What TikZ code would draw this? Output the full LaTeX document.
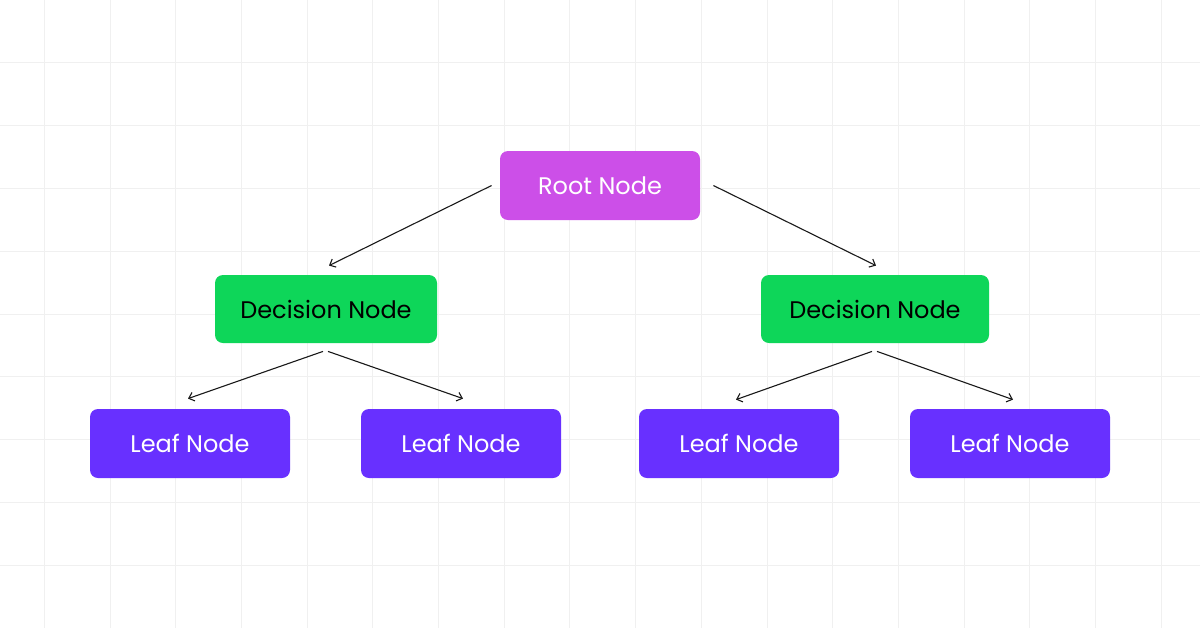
\documentclass[tikz,border=0pt]{standalone}
\usepackage{fontspec}
\setmainfont{Poppins}
\usetikzlibrary{positioning,arrows.meta}
\definecolor{RootPink}{RGB}{204,79,232}
\definecolor{DecisionGreen}{RGB}{14,214,89}
\definecolor{LeafViolet}{RGB}{104,48,255}
\definecolor{GridGrey}{RGB}{240,240,240}
\definecolor{EdgeInk}{RGB}{25,25,25}

\begin{document}
\begin{tikzpicture}[x=0.5pt, y=-0.5pt, every node/.style={font=\fontsize{12}{14}\selectfont, align=center}]
  \useasboundingbox (0,0) rectangle (1200,628);
  \fill[white] (0,0) rectangle (1200,628);
  \foreach \gx in {0,...,17}
    \draw[GridGrey, line width=0.5pt] (44.3+65.7*\gx,0) -- (44.3+65.7*\gx,628);
  \foreach \gy in {1,...,9}
    \draw[GridGrey, line width=0.5pt] (0,62.8*\gy) -- (1200,62.8*\gy);
  \node[rounded corners=4pt, fill=RootPink, text=white, inner sep=0pt,
        minimum width=100pt, minimum height=34.5pt] (root) at (600,185.5) {Root Node};
  \node[rounded corners=4pt, fill=DecisionGreen, text=black, inner sep=0pt,
        minimum width=111pt, minimum height=34pt] (decleft) at (326,309) {Decision Node};
  \node[rounded corners=4pt, fill=DecisionGreen, text=black, inner sep=0pt,
        minimum width=114pt, minimum height=34pt] (decright) at (875,309) {Decision Node};
  \node[rounded corners=4pt, fill=LeafViolet, text=white, inner sep=0pt,
        minimum width=100pt, minimum height=34.5pt] (leafa) at (190,443.5) {Leaf Node};
  \node[rounded corners=4pt, fill=LeafViolet, text=white, inner sep=0pt,
        minimum width=100pt, minimum height=34.5pt] (leafb) at (461,443.5) {Leaf Node};
  \node[rounded corners=4pt, fill=LeafViolet, text=white, inner sep=0pt,
        minimum width=100pt, minimum height=34.5pt] (leafc) at (739,443.5) {Leaf Node};
  \node[rounded corners=4pt, fill=LeafViolet, text=white, inner sep=0pt,
        minimum width=100pt, minimum height=34.5pt] (leafd) at (1010,443.5) {Leaf Node};
  \foreach \x/\xs/\y/\ys in {root.west/{-4pt,0pt}/decleft.north/{1.5pt,4.5pt},
                             root.east/{6.5pt,0pt}/decright.north/{0.5pt,4.5pt},
                             decleft.south/{-1.5pt,-4pt}/leafa.north/{-1pt,5pt},
                             decleft.south/{1pt,-4pt}/leafb.north/{1pt,5pt},
                             decright.south/{-1.5pt,-4pt}/leafc.north/{-1.5pt,4.5pt},
                             decright.south/{1pt,-4pt}/leafd.north/{1.5pt,4.5pt}}
    \draw[-{Straight Barb[length=2.5pt,width=4.5pt]}, line width=0.55pt, EdgeInk]
      ([shift={(\xs)}]\x) -- ([shift={(\ys)}]\y);
\end{tikzpicture}
\end{document}
